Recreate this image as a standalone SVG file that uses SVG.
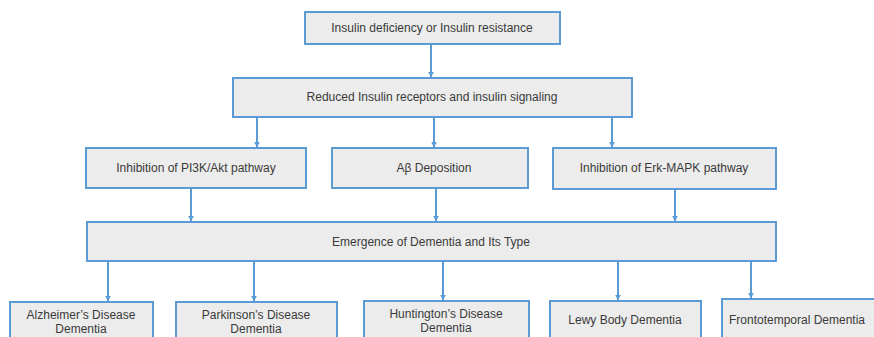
<svg xmlns="http://www.w3.org/2000/svg" width="874" height="337" viewBox="0 0 874 337">
  <style>
    .box { fill: #ececec; stroke: #5b9bd5; stroke-width: 2; }
    .lbl { font-family: "Liberation Sans", Arial, sans-serif; font-size: 12px; fill: #3a3a3a; text-anchor: middle; }
    .wire { stroke: #5b9bd5; stroke-width: 2; fill: none; marker-end: url(#tip); }
  </style>
  <defs>
    <marker id="tip" viewBox="0 0 10 10" refX="9" refY="5" markerWidth="3" markerHeight="3" orient="auto" markerUnits="strokeWidth">
      <path d="M0,0 L10,5 L0,10 z" fill="#5b9bd5"/>
    </marker>
  </defs>
  <rect width="874" height="337" fill="#ffffff"/>

  <g id="connectors">
    <line class="wire" x1="431" y1="45" x2="431" y2="77"/>
    <line class="wire" x1="257" y1="118" x2="257" y2="147"/>
    <line class="wire" x1="434" y1="118" x2="434" y2="147"/>
    <line class="wire" x1="612" y1="118" x2="612" y2="147"/>
    <line class="wire" x1="191" y1="189" x2="191" y2="221"/>
    <line class="wire" x1="436" y1="189" x2="436" y2="221"/>
    <line class="wire" x1="675" y1="190" x2="675" y2="221"/>
    <line class="wire" x1="108" y1="262" x2="108" y2="301"/>
    <line class="wire" x1="254" y1="262" x2="254" y2="301"/>
    <line class="wire" x1="443" y1="262" x2="443" y2="300"/>
    <line class="wire" x1="618" y1="262" x2="618" y2="300"/>
    <line class="wire" x1="751" y1="262" x2="751" y2="298"/>
  </g>

  <g id="insulin-deficiency">
    <rect class="box" x="305" y="12" width="255" height="32"/>
    <text class="lbl" x="432" y="32">Insulin  deficiency or Insulin  resistance</text>
  </g>

  <g id="reduced-signaling">
    <rect class="box" x="233" y="78" width="399" height="39"/>
    <text class="lbl" x="432" y="101">Reduced Insulin  receptors and insulin signaling</text>
  </g>

  <g id="pi3k-akt">
    <rect class="box" x="86" y="148" width="220" height="40"/>
    <text class="lbl" x="196" y="172">Inhibition  of PI3K/Akt pathway</text>
  </g>

  <g id="abeta">
    <rect class="box" x="332" y="148" width="196" height="40"/>
    <text class="lbl" x="434" y="172">Aβ Deposition</text>
  </g>

  <g id="erk-mapk">
    <rect class="box" x="553" y="148" width="223" height="41"/>
    <text class="lbl" x="664" y="172">Inhibition  of Erk-MAPK pathway</text>
  </g>

  <g id="dementia-types">
    <rect class="box" x="87" y="222" width="689" height="39"/>
    <text class="lbl" x="431" y="246">Emergence of Dementia and Its  Type</text>
  </g>

  <g id="alzheimers">
    <rect class="box" x="10" y="302" width="143" height="50"/>
    <text class="lbl" x="81" y="319">Alzheimer’s Disease</text>
    <text class="lbl" x="81" y="333">Dementia</text>
  </g>

  <g id="parkinsons">
    <rect class="box" x="176" y="302" width="161" height="50"/>
    <text class="lbl" x="256" y="319">Parkinson’s Disease</text>
    <text class="lbl" x="256" y="333">Dementia</text>
  </g>

  <g id="huntingtons">
    <rect class="box" x="364" y="301" width="165" height="50"/>
    <text class="lbl" x="446" y="318">Huntington’s Disease</text>
    <text class="lbl" x="446" y="332">Dementia</text>
  </g>

  <g id="lewy-body">
    <rect class="box" x="550" y="301" width="151" height="50"/>
    <text class="lbl" x="625" y="324">Lewy Body Dementia</text>
  </g>

  <g id="frontotemporal">
    <rect class="box" x="722" y="299" width="170" height="50"/>
    <text class="lbl" x="797" y="324">Frontotemporal Dementia</text>
  </g>
</svg>
